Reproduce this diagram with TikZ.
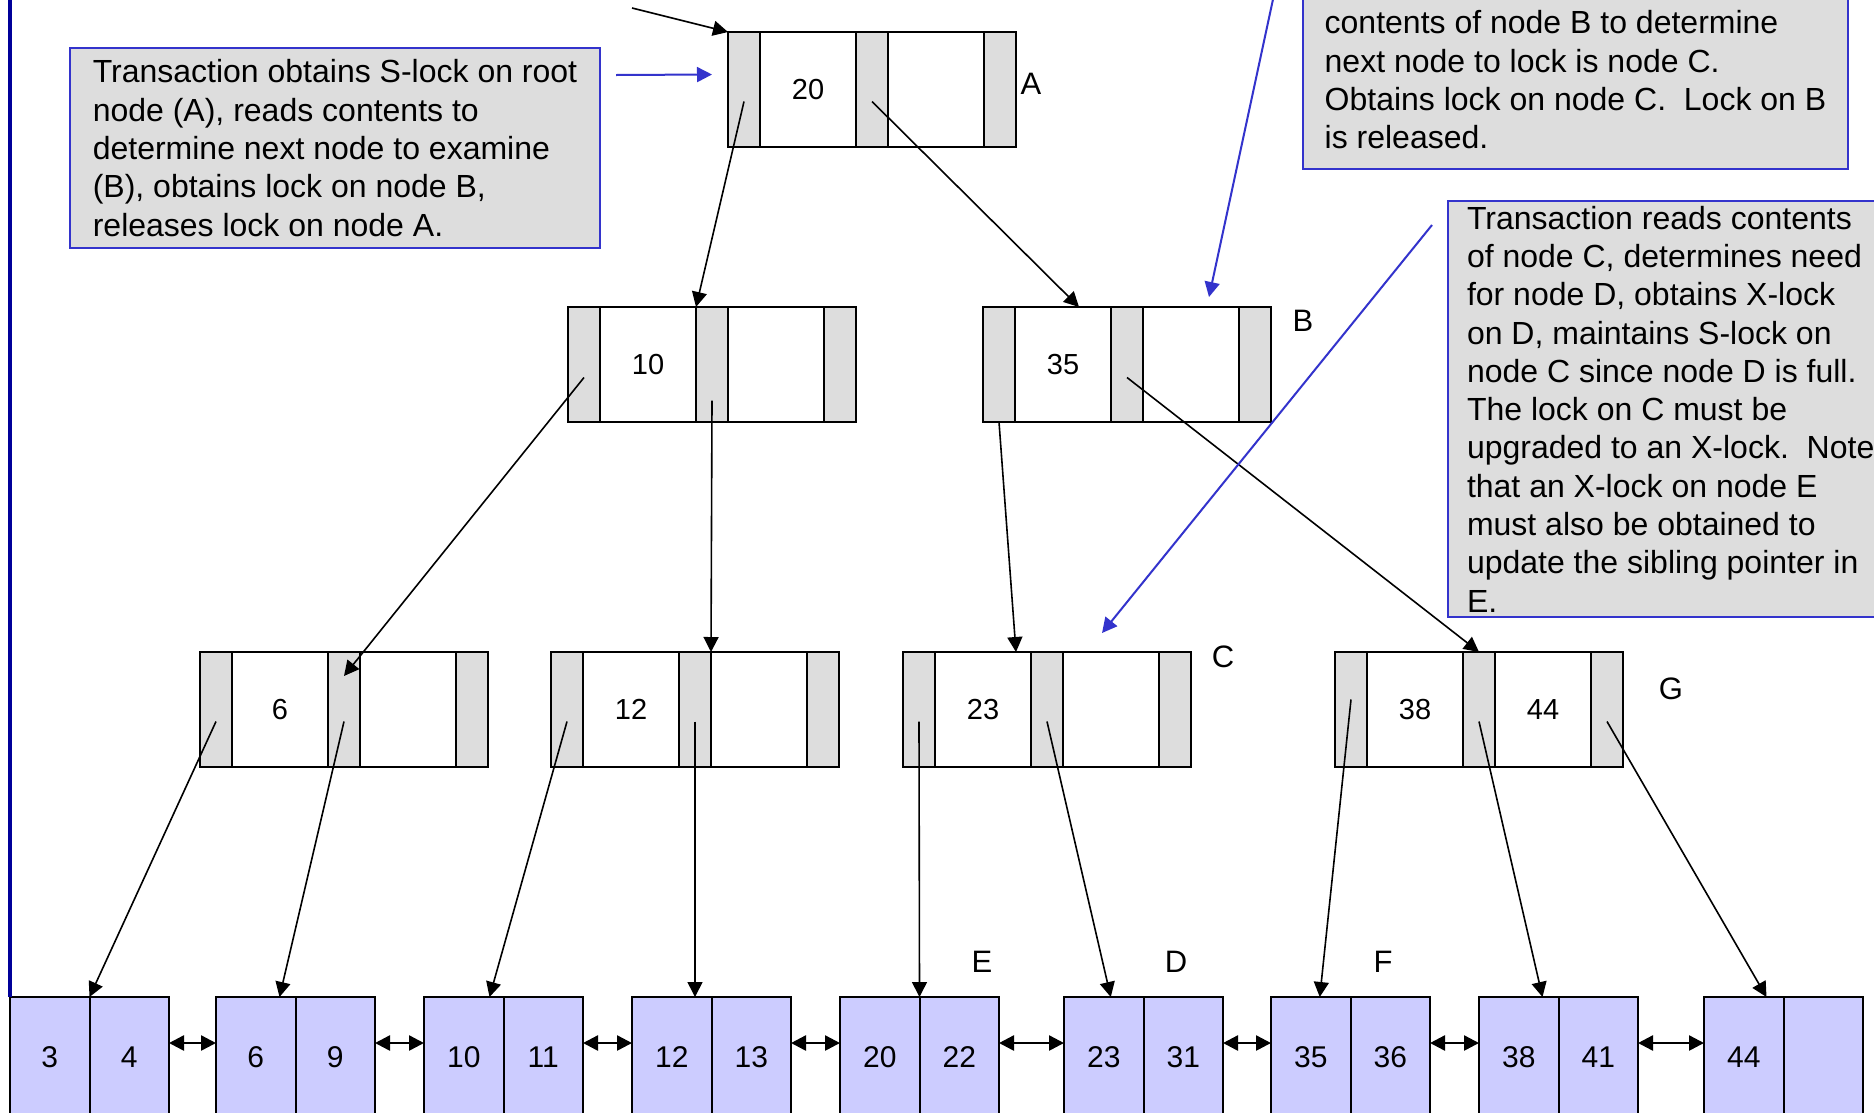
\documentclass[tikz,border=0pt]{standalone}
\usepackage{fontspec}
\setmainfont{Liberation Sans}
\usepackage{xcolor}
\usetikzlibrary{calc,arrows.meta,positioning}
\definecolor{cellgray}{HTML}{DDDDDD}
\definecolor{leafblue}{HTML}{CCCCFF}
\definecolor{noteblue}{HTML}{3333CC}
\definecolor{rulenavy}{HTML}{000099}
\tikzset{
  ptr/.style={draw, fill=cellgray, minimum width=32pt, minimum height=115pt, inner sep=0pt, line width=2pt, anchor=north west},
  key/.style={draw, fill=white, minimum width=96pt, minimum height=115pt, inner sep=0pt, line width=2pt, anchor=north west, font=\fontsize{29}{35}\selectfont},
  leaf/.style={draw, fill=leafblue, minimum width=79.5pt, minimum height=120pt, inner sep=0pt, line width=2pt, anchor=north west, font=\fontsize{30}{36}\selectfont},
  note/.style={draw=noteblue, fill=cellgray, line width=2pt, align=left, inner xsep=20pt, font=\fontsize{32}{38.3}\selectfont},
  lbl/.style={inner sep=0pt, font=\fontsize{31}{37}\selectfont},
  ptrarrow/.style={line width=1.6pt, -{Triangle[length=15pt,width=15pt]}},
  notearrow/.style={noteblue, line width=2pt, -{Triangle[length=15pt,width=15pt]}},
  linkarrow/.style={line width=2.5pt, {Triangle[length=15pt,width=15pt]}-{Triangle[length=15pt,width=15pt]}}
}
% inner node: pointer | key | pointer | key | pointer
\newcommand{\innerbox}[4]{%
  \node (#1-p1) [ptr] at #2 {};
  \node (#1-k1) [key] at (#1-p1.north east) {#3};
  \node (#1-p2) [ptr] at (#1-k1.north east) {};
  \node (#1-k2) [key] at (#1-p2.north east) {#4};
  \node (#1-p3) [ptr] at (#1-k2.north east) {};
}
\newcommand{\leafbox}[4]{%
  \node (#1-a) [leaf] at #2 {#3};
  \node (#1-b) [leaf] at (#1-a.north east) {#4};
}
\begin{document}
\begin{tikzpicture}[x=1pt,y=-1pt,node distance=0pt,outer sep=0pt]
    \useasboundingbox (0,0) rectangle (1874,1112);
    \clip (0,0) rectangle (1874,1112);
    \fill[white] (0,0) rectangle (1874,1112);

    \innerbox{A}{(728,32)}{20}{}
    \innerbox{n10}{(568,307)}{10}{}
    \innerbox{B}{(983,307)}{35}{}
    \innerbox{n6}{(200,652)}{6}{}
    \innerbox{n12}{(551,652)}{12}{}
    \innerbox{C}{(903,652)}{23}{}
    \innerbox{G}{(1335,652)}{38}{44}

    \leafbox{L3}{(10,997)}{3}{4}
    \leafbox{L6}{(216,997)}{6}{9}
    \leafbox{L10}{(424,997)}{10}{11}
    \leafbox{L12}{(632,997)}{12}{13}
    \leafbox{E}{(840,997)}{20}{22}
    \leafbox{D}{(1064,997)}{23}{31}
    \leafbox{F}{(1271,997)}{35}{36}
    \leafbox{L38}{(1479,997)}{38}{41}
    \leafbox{L44}{(1704,997)}{44}{}

    \node (lblA) [lbl] at (1031,84) {A};
    \node (lblB) [lbl] at (1303,321) {B};
    \node (lblC) [lbl] at (1223,657) {C};
    \node (lblG) [lbl] at (1671,689) {G};
    \node (lblE) [lbl] at (982,962) {E};
    \node (lblD) [lbl] at (1176,962) {D};
    \node (lblF) [lbl] at (1383,962) {F};

    \node (note1) [note, anchor=north west, inner xsep=21pt, minimum width=530pt, minimum height=200pt] at (70,48)
    {Transaction obtains S-lock on root\\ node (A), reads contents to\\ determine next node to examine\\ (B), obtains lock on node B,\\ releases lock on node A.};
    \node (note2) [note, anchor=south west, inner ysep=20pt, minimum width=545pt] at (1303,169)
    {contents of node B to determine\\ next node to lock is node C.\\ Obtains lock on node C.\ \ Lock on B\\ is released.};
    \node (note3) [note, anchor=north west, inner xsep=19pt, minimum height=416pt] at (1448,201)
    {Transaction reads contents\\ of node C, determines need\\ for node D, obtains X-lock\\ on D, maintains S-lock on\\ node C since node D is full.\\ The lock on C must be\\ upgraded to an X-lock.\ \ Note\\ that an X-lock on node E\\ must also be obtained to\\ update the sibling pointer in\\ E.};

    \draw[rulenavy, line width=3.5pt] (10,-5) -- (L3-a.north west);

    % tree pointers
    \coordinate (rootin) at (632,8);
    \draw[ptrarrow] (rootin) -- (A-p1.north west);
    \draw[ptrarrow] ([yshift=-12pt]A-p1.center) -- (n10-p2.north west);
    \draw[ptrarrow] ([yshift=-12pt]A-p2.center) -- ([xshift=16pt]B-k1.north);
    \draw[ptrarrow] ([yshift=-13pt]n10-p1.center) -- ([yshift=-24pt]n6-p2.north);
    \draw[ptrarrow] ([yshift=-36pt]n10-p2.center) -- (n12-p2.north east);
    \draw[ptrarrow] (B-p1.south) -- ([xshift=33pt]C-k1.north);
    \draw[ptrarrow] ([yshift=-13pt]B-p2.center) -- (G-p2.north);
    \draw[ptrarrow] ([yshift=-12pt]n6-p1.center) -- (L3-a.north east);
    \draw[ptrarrow] ([yshift=-12pt]n6-p2.center) -- ([xshift=-16pt]L6-a.north east);
    \draw[ptrarrow] ([yshift=-12pt]n12-p1.center) -- ([xshift=-14pt]L10-a.north east);
    \draw[ptrarrow] ([yshift=-12pt]n12-p2.center) -- (n12-p2.center |- L12-a.north);
    \draw[ptrarrow] ([yshift=-12pt]C-p1.center) -- (E-a.north east);
    \draw[ptrarrow] ([yshift=-12pt]C-p2.center) -- ([xshift=7pt]D-a.north);
    \draw[ptrarrow] ([yshift=10pt]G-p1.center) -- ([xshift=9pt]F-a.north);
    \draw[ptrarrow] ([yshift=-12pt]G-p2.center) -- ([xshift=-16pt]L38-a.north east);
    \draw[ptrarrow] ([yshift=-12pt]G-p3.center) -- ([xshift=-17pt]L44-a.north east);

    % sibling links
    \foreach \l/\r in {L3/L6, L6/L10, L10/L12, L12/E, E/D, D/F, F/L38, L38/L44}
      \draw[linkarrow] ([yshift=14pt]\l-b.east) -- ([yshift=14pt]\r-a.west);

    \coordinate (n2tail) at (1275,-10);
    \draw[notearrow] ($(note1.north east)+(16,27)$) -- ($(A-p1.west)+(-16,-15)$);
    \draw[notearrow] (n2tail) -- ($(B-k2.north)+(18,-10)$);
    \draw[notearrow] ($(note3.north west)+(-16,24)$) -- ($(C-k2.north)+(-9,-19)$);
\end{tikzpicture}
\end{document}
